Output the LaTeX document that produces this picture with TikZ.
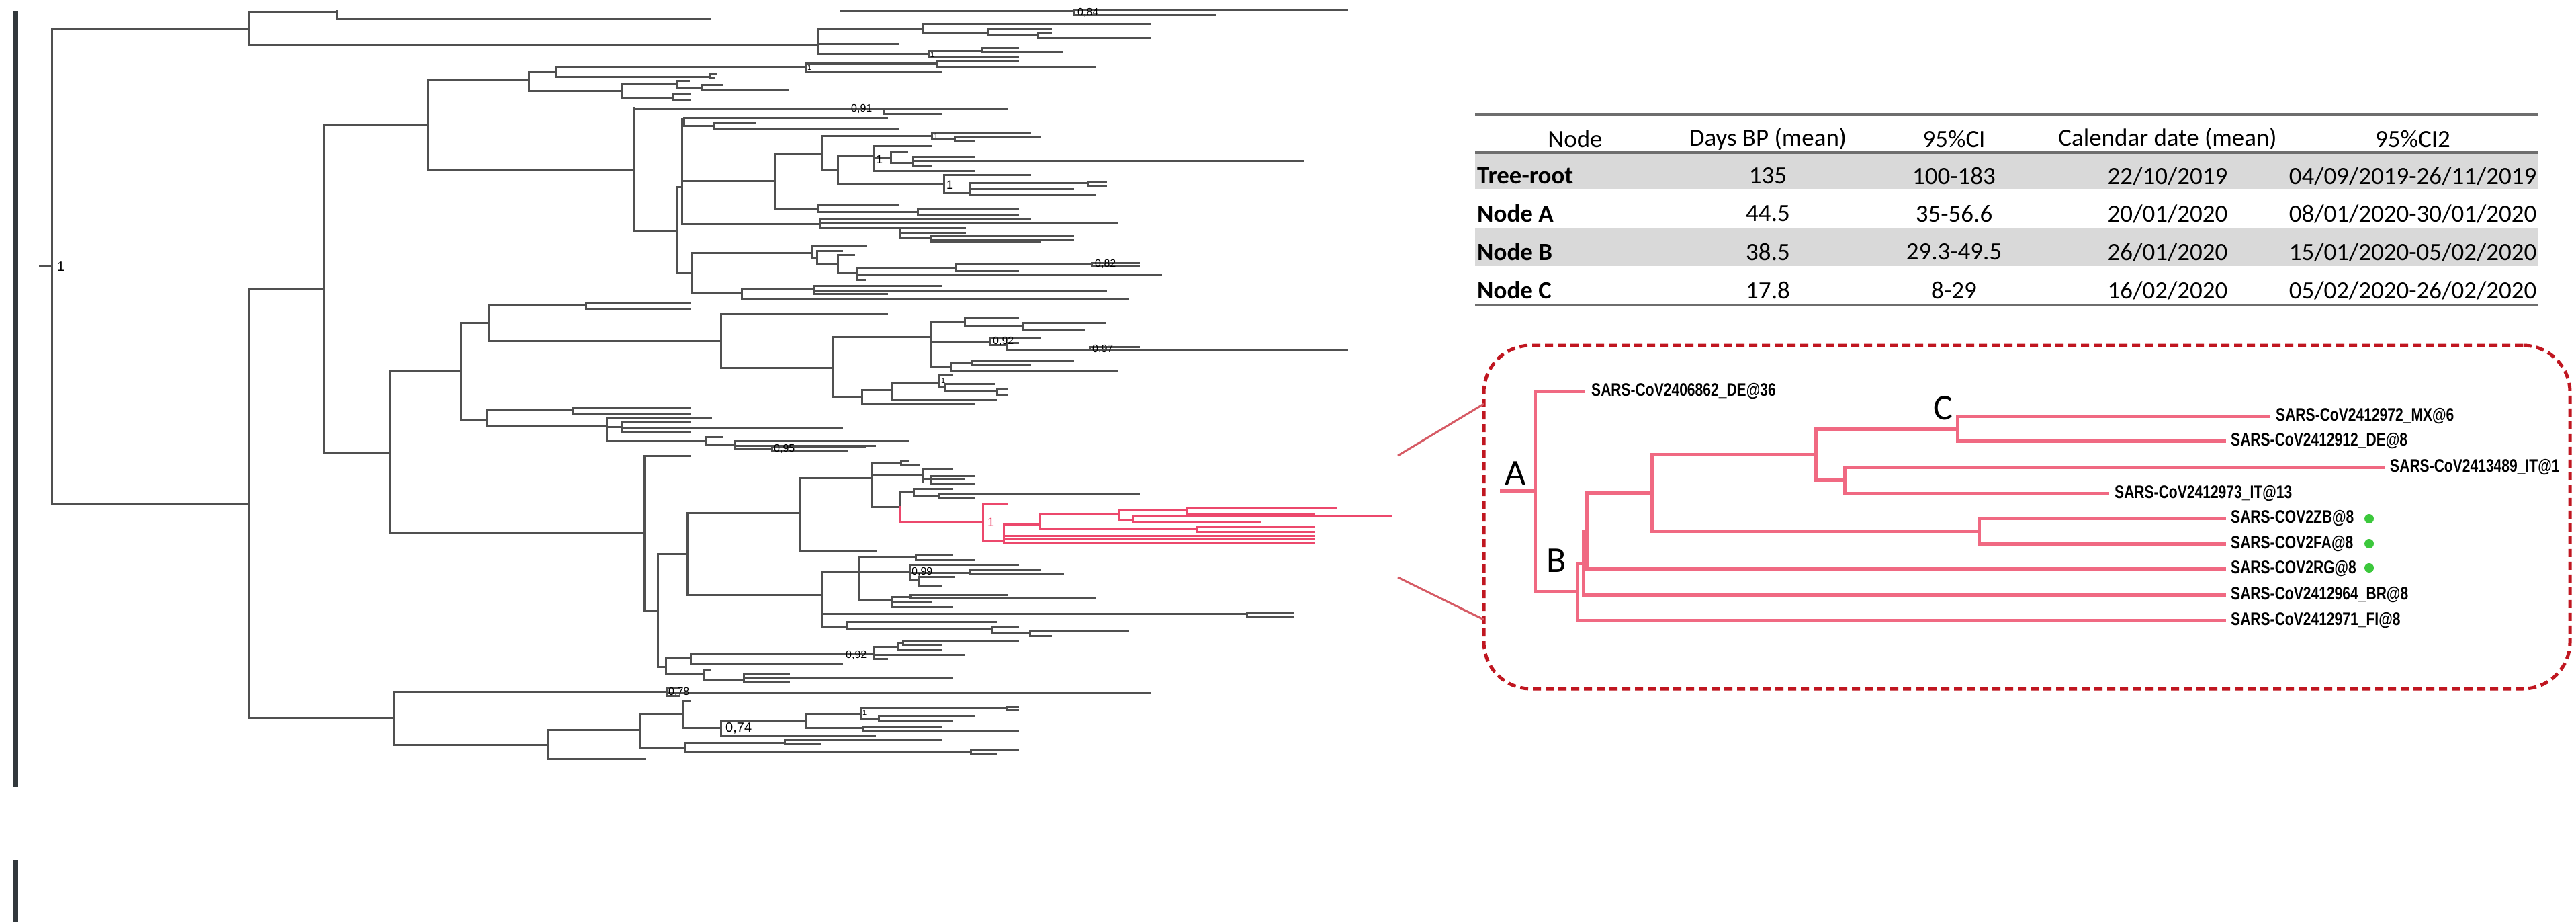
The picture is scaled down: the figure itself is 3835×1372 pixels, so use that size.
\documentclass[tikz,border=0pt]{standalone}
\usepackage{fontspec}
\setmainfont{Carlito}
\newfontfamily\arialf{Liberation Sans}
\definecolor{trc}{RGB}{80,80,80}
\definecolor{rdc}{RGB}{236,72,108}
\definecolor{ipk}{RGB}{240,105,130}
\definecolor{boxc}{RGB}{192,22,32}
\definecolor{lnk}{RGB}{214,90,100}
\definecolor{shadec}{RGB}{217,217,217}
\definecolor{rulec}{RGB}{110,110,110}
\definecolor{barc}{RGB}{50,56,60}
\definecolor{dotc}{RGB}{60,200,60}
\begin{document}
\begin{tikzpicture}[x=1pt,y=-1pt,
  br/.style={draw=trc,line width=3pt,line cap=rect},
  rbr/.style={draw=rdc,line width=3pt,line cap=rect},
  ib/.style={draw=ipk,line width=5pt,line cap=rect},
  suplab/.style={font=\arialf\fontsize{16}{16}\selectfont,inner sep=1pt,anchor=west,text=black},
  cell/.style={font=\fontsize{37}{40}\selectfont,inner sep=0pt},
  rowlab/.style={font=\bfseries\fontsize{37}{40}\selectfont,inner sep=0pt,anchor=west},
  leaf/.style={anchor=west,inner sep=0pt,font=\arialf\bfseries\fontsize{27}{30}\selectfont},
  biglab/.style={font=\fontsize{54}{60}\selectfont,inner sep=0pt},
  gdot/.style={circle,fill=dotc,minimum size=14pt,inner sep=0pt}]
\useasboundingbox (0,0) rectangle (3835,1372);
\fill[white] (0,0) rectangle (3835,1372);
% left bar
\fill[barc] (19,17) rectangle (27,1171);
\fill[barc] (19,1280) rectangle (27,1372);
% ---------------- main tree: verticals
\foreach \x/\a/\b in {77/43/749, 370/18/67, 501/17/29, 1598/16/23, 1217/43/81, 1373/36/49, 1471/43/53, 1545/50/57, 1382/76/86, 1462/72/78,
 370/430/1068, 482/187/673, 636/120/253, 787/107/136, 827/100/115, 1199/95/107, 1394/92/100, 1057/111/116, 925/126/146, 1007/121/132, 1045/127/135, 1002/141/150,
 944/161/343, 1316/163/170, 1008/279/406, 1015/178/333, 1018/176/188, 1063/184/193, 1153/229/310, 1223/203/254, 1387/198/208, 1421/205/211, 1247/232/275, 1300/218/255, 1326/227/243, 1358/234/248, 1405/261/287, 1444/273/290, 1619/272/277, 1218/305/315, 1366/311/319, 1221/325/339, 1339/339/353, 1385/350/360,
 1030/376/436, 1208/366/383, 1216/373/393, 1247/379/406, 1275/398/416, 1423/393/403, 1625/391/395, 1104/430/445, 1212/425/437,
 580/552/792, 686/480/624, 728/454/507, 872/451/459, 1073/467/547, 1240/501/590, 1385/478/546, 1436/473/485, 1523/480/491, 1474/503/513, 1498/510/520, 1622/516/521, 1416/540/552, 1446/536/543, 1283/580/600, 1327/570/594, 1398/557/575, 1406/571/581, 1484/578/587,
 725/609/633, 852/607/615, 903/621/656, 925/628/642, 1050/650/661, 1094/656/668, 1149/665/671,
 959/678/909, 979/824/992, 1023/763/885, 1191/711/819, 1297/688/754, 1341/685/692, 1373/698/717, 1385/708/720, 1340/732/754, 1360/727/737, 1398/734/741,
 1223/850/932, 1279/828/893, 1363/825/833, 1354/840/863, 1444/847/853, 1367/858/872, 1328/888/903, 1355/885/889, 1856/911/917, 1260/925/936, 1476/932/941, 1533/938/946,
 991/978/1002, 1028/973/988, 1300/963/980, 1336/956/967, 1344/954/959, 1048/996/1012, 1107/1003/1015,
 586/1029/1108, 992/1024/1035, 815/1086/1129, 953/1062/1113, 1016/1043/1083, 1073/1072/1094, 1200/1062/1083, 1281/1053/1070, 1499/1051/1056, 1308/1065/1073, 1285/1081/1087, 1019/1105/1118, 1168/1100/1107, 1445/1116/1122}
 \draw[br] (\x,\a) -- (\x,\b);
% ---------------- main tree: horizontals
\foreach \a/\y/\b in {59/396/77, 77/43/370, 77/749/370,
 370/18/501, 1251/17/1598, 501/29/1057, 1598/16/2005, 1598/23/1809,
 370/67/1217, 1217/43/1373, 1373/36/1711, 1373/49/1471, 1471/43/1564, 1471/53/1545, 1545/50/1564, 1545/57/1711, 1217/66/1337, 1217/81/1382, 1382/76/1462, 1462/72/1515, 1462/78/1581, 1382/86/1515,
 370/430/482, 482/187/636, 636/120/787, 787/107/827, 827/100/1199, 1199/95/1394, 1394/92/1515, 1394/100/1630, 1199/107/1400, 827/115/1057, 1057/111/1065, 1057/116/1062,
 787/136/925, 925/126/1007, 1007/121/1025, 1007/132/1045, 1045/127/1075, 1045/135/1173, 925/146/1002, 1002/141/1026, 1002/150/1026,
 636/253/944, 944/163/1316, 1316/163/1499, 1316/170/1401,
 944/343/1008, 1008/279/1015, 1015/178/1018, 1018/176/1320, 1018/188/1063, 1063/184/1123, 1063/193/1337,
 1015/270/1153, 1153/229/1223, 1223/203/1387, 1387/198/1533, 1387/208/1421, 1421/205/1548, 1421/211/1450,
 1223/254/1247, 1247/232/1300, 1300/218/1385, 1300/235/1326, 1326/227/1350, 1326/243/1358, 1358/234/1450, 1358/240/1940, 1358/248/1385, 1300/255/1450,
 1247/275/1405, 1405/261/1533, 1405/287/1444, 1444/273/1619, 1619/272/1646, 1619/277/1646, 1444/282/1597, 1444/290/1630,
 1153/310/1218, 1218/305/1337, 1218/315/1366, 1366/311/1515, 1366/319/1515,
 1015/333/1221, 1221/325/1533, 1221/332/1663, 1221/339/1339, 1339/339/1436, 1339/346/1436, 1339/353/1385, 1385/350/1597, 1385/356/1597, 1385/360/1548,
 1008/406/1030, 1030/376/1208, 1208/366/1288, 1208/383/1216, 1216/373/1253, 1216/393/1247, 1247/379/1271, 1247/406/1275, 1275/398/1423, 1423/393/1625, 1625/391/1695, 1625/395/1695, 1423/403/1515, 1275/409/1728, 1275/416/1287,
 1030/436/1104, 1104/430/1212, 1212/425/1401, 1212/432/1646, 1212/437/1320, 1104/445/1679,
 482/673/580, 580/552/686, 686/480/728, 728/454/872, 872/451/1026, 872/459/1026, 728/507/1073, 1073/467/1320, 1073/547/1240,
 1240/501/1385, 1385/478/1436, 1436/473/1515, 1436/485/1523, 1523/480/1644, 1523/491/1614,
 1385/508/1474, 1474/503/1548, 1474/513/1498, 1498/510/1515, 1498/520/1622, 1622/516/1695, 1622/521/2005,
 1385/546/1416, 1416/540/1446, 1446/536/1597, 1446/543/1533, 1416/552/1663,
 1240/590/1283, 1283/580/1327, 1327/570/1398, 1398/557/1417, 1398/575/1406, 1406/571/1480, 1406/581/1484, 1484/578/1499, 1484/587/1499, 1327/594/1483, 1283/600/1450,
 686/624/725, 725/609/852, 852/607/1026, 852/615/1026, 725/633/903, 903/621/1058, 903/635/925, 925/628/1026, 925/636/1253, 925/642/1026, 903/656/1050,
 1050/650/1075, 1050/661/1094, 1094/656/1351, 1094/663/1302, 1094/668/1149, 1149/665/1287, 1149/671/1260,
 580/792/959, 959/678/1026, 959/909/979, 979/824/1023, 1023/763/1191, 1191/711/1297, 1297/688/1341, 1341/685/1352, 1341/692/1368, 1297/707/1373, 1373/698/1417, 1373/713/1385, 1385/708/1450, 1385/713/1434, 1385/720/1450,
 1297/754/1340, 1340/732/1360, 1360/727/1417, 1360/737/1398, 1398/734/1695, 1398/741/1450,
 1191/819/1303,
 1023/885/1223, 1223/850/1279, 1279/828/1363, 1363/825/1417, 1363/833/1450, 1279/851/1354, 1354/840/1515, 1354/852/1444, 1444/847/1548, 1444/853/1582, 1354/863/1367, 1367/858/1420, 1367/872/1400,
 1279/893/1328, 1328/888/1355, 1355/885/1499, 1355/889/1630, 1328/896/1385, 1328/903/1417,
 1223/913/1856, 1856/911/1924, 1856/917/1924, 1223/932/1260, 1260/925/1483, 1260/936/1476, 1476/932/1515, 1476/941/1533, 1533/938/1679, 1533/946/1564,
 979/992/991, 991/978/1028, 1028/973/1300, 1300/963/1336, 1336/956/1344, 1344/954/1515, 1344/959/1400, 1336/967/1400, 1300/974/1434, 1300/980/1320, 1028/988/1253,
 991/1002/1048, 1048/996/1057, 1048/1012/1107, 1107/1003/1174, 1107/1009/1417, 1107/1015/1174,
 370/1068/586, 586/1029/992, 992/1024/1010, 992/1030/1711, 992/1035/1010,
 586/1108/815, 815/1129/960, 815/1086/953, 953/1062/1016, 1016/1043/1027, 1016/1083/1073, 1073/1072/1200, 1200/1062/1281, 1281/1053/1499, 1499/1051/1515, 1499/1056/1515, 1281/1070/1308, 1308/1065/1450, 1308/1073/1417, 1200/1083/1285, 1285/1081/1400, 1285/1087/1515, 1073/1094/1302,
 953/1113/1019, 1019/1105/1168, 1168/1100/1400, 1168/1107/1221, 1019/1118/1445, 1445/1116/1515, 1445/1122/1483}
 \draw[br] (\a,\y) -- (\b,\y);
% ---------------- red clade
\foreach \x/\a/\b in {1340/754/777, 1463/749/804, 1494/780/807, 1548/765/787, 1665/758/773, 1766/755/764, 1686/768/777, 1781/783/791}
 \draw[rbr] (\x,\a) -- (\x,\b);
\foreach \a/\y/\b in {1340/777/1463, 1463/749/1499, 1463/804/1494, 1494/780/1548, 1548/765/1665, 1665/758/1766, 1766/755/1988, 1766/764/1956, 1665/773/1686, 1686/768/2071, 1686/777/1875, 1548/787/1781, 1781/783/1956, 1781/791/1956, 1494/797/1956, 1494/802/1956, 1494/807/1956}
 \draw[rbr] (\a,\y) -- (\b,\y);
% ---------------- support values
\node[suplab,font=\arialf\fontsize{20}{20}\selectfont] (s0) at (84,397) {1};
\node[suplab] (s1) at (1603,19) {0,84};
\node[suplab] (s2) at (1266,162) {0,91};
\node[suplab,font=\arialf\fontsize{11}{11}\selectfont] (s3) at (1384,82) {1};
\node[suplab,font=\arialf\fontsize{11}{11}\selectfont] (s4) at (1201,101) {1};
\node[suplab,font=\arialf\fontsize{11}{11}\selectfont] (s5) at (1389,203) {1};
\node[suplab,font=\arialf\fontsize{18}{18}\selectfont] (s6) at (1303,237) {1};
\node[suplab,font=\arialf\fontsize{18}{18}\selectfont] (s7) at (1408,275) {1};
\node[suplab] (s8) at (1629,393) {0,82};
\node[suplab] (s9) at (1477,508) {0,92};
\node[suplab] (s10) at (1625,520) {0,97};
\node[suplab,font=\arialf\fontsize{11}{11}\selectfont] (s11) at (1400,567) {1};
\node[suplab] (s12) at (1151,668) {0,95};
\node[suplab,text=rdc,font=\arialf\fontsize{18}{18}\selectfont] (s13) at (1469,777) {1};
\node[suplab] (s14) at (1356,851) {0,99};
\node[suplab] (s15) at (1258,975) {0,92};
\node[suplab] (s16) at (994,1030) {0,78};
\node[suplab,font=\arialf\fontsize{20}{20}\selectfont] (s17) at (1079,1084) {0,74};
\node[suplab,font=\arialf\fontsize{11}{11}\selectfont] (s18) at (1283,1061) {1};
% ---------------- table
\fill[shadec] (2196,229) rectangle (3779,281);
\fill[shadec] (2196,340) rectangle (3779,396);
\draw[rulec,line width=4pt] (2196,170) -- (3779,170);
\draw[rulec,line width=4pt] (2196,227) -- (3779,227);
\draw[rulec,line width=4pt] (2196,454) -- (3779,454);
\node[cell] (h1) at (2345,207) {Node};
\node[cell] (h2) at (2632,207) {Days BP (mean)};
\node[cell] (h3) at (2909,207) {95\%CI};
\node[cell] (h4) at (3227,207) {Calendar date (mean)};
\node[cell] (h5) at (3592,207) {95\%CI2};
\node[rowlab] (r1) at (2199,262) {Tree-root};
\node[rowlab] (r2) at (2199,318) {Node A};
\node[rowlab] (r3) at (2199,375) {Node B};
\node[rowlab] (r4) at (2199,432) {Node C};
\node[cell] (a1) at (2632,262) {135};
\node[cell] (a2) at (2632,318) {44.5};
\node[cell] (a3) at (2632,375) {38.5};
\node[cell] (a4) at (2632,432) {17.8};
\node[cell] (b1) at (2909,262) {100-183};
\node[cell] (b2) at (2909,318) {35-56.6};
\node[cell] (b3) at (2909,375) {29.3-49.5};
\node[cell] (b4) at (2909,432) {8-29};
\node[cell] (c1) at (3227,262) {22/10/2019};
\node[cell] (c2) at (3227,318) {20/01/2020};
\node[cell] (c3) at (3227,375) {26/01/2020};
\node[cell] (c4) at (3227,432) {16/02/2020};
\node[cell] (d1) at (3592,262) {04/09/2019-26/11/2019};
\node[cell] (d2) at (3592,318) {08/01/2020-30/01/2020};
\node[cell] (d3) at (3592,375) {15/01/2020-05/02/2020};
\node[cell] (d4) at (3592,432) {05/02/2020-26/02/2020};
% ---------------- inset box and connectors
\node[draw=boxc,line width=5pt,dash pattern=on 12pt off 7pt,rounded corners=70pt,
      minimum width=1617pt,minimum height=511pt,inner sep=0pt] (inset) at (3017.5,769.5) {};
\coordinate (z1) at (2081,678);
\coordinate (z2) at (2081,859);
\coordinate (e1) at (2209,601);
\coordinate (e2) at (2209,922);
\draw[lnk,line width=3pt] (z1) -- (e1);
\draw[lnk,line width=3pt] (z2) -- (e2);
% ---------------- inset tree
\foreach \x/\a/\b in {2285/582/880, 2348/838/923, 2357/791/885, 2362/733/846, 2459/676/790, 2703/638/714, 2914/619/656, 2746/695/734, 2946/771/809}
 \draw[ib] (\x,\a) -- (\x,\b);
\foreach \a/\y/\b in {2235/730/2285, 2285/582/2357, 2285/880/2348, 2348/923/3311, 2348/838/2357, 2357/885/3311, 2357/791/2362, 2362/846/3311, 2362/733/2459,
 2459/676/2703, 2703/638/2914, 2914/619/3377, 2914/656/3311, 2703/714/2746, 2746/695/3548, 2746/734/3137, 2459/790/2946, 2946/771/3311, 2946/809/3311}
 \draw[ib] (\a,\y) -- (\b,\y);
\node[leaf] (l1) at (2369,582) {\scalebox{0.78}[1]{SARS-CoV2406862\_DE@36}};
\node[leaf] (l2) at (3388,619) {\scalebox{0.78}[1]{SARS-CoV2412972\_MX@6}};
\node[leaf] (l3) at (3321,656) {\scalebox{0.78}[1]{SARS-CoV2412912\_DE@8}};
\node[leaf] (l4) at (3558,695) {\scalebox{0.78}[1]{SARS-CoV2413489\_IT@1}};
\node[leaf] (l5) at (3148,734) {\scalebox{0.78}[1]{SARS-CoV2412973\_IT@13}};
\node[leaf] (l6) at (3321,771) {\scalebox{0.78}[1]{SARS-COV2ZB@8}};
\node[leaf] (l7) at (3321,809) {\scalebox{0.78}[1]{SARS-COV2FA@8}};
\node[leaf] (l8) at (3321,846) {\scalebox{0.78}[1]{SARS-COV2RG@8}};
\node[leaf] (l9) at (3321,885) {\scalebox{0.78}[1]{SARS-CoV2412964\_BR@8}};
\node[leaf] (l10) at (3321,923) {\scalebox{0.78}[1]{SARS-CoV2412971\_FI@8}};
\node[gdot] (g1) at (3527,772) {};
\node[gdot] (g2) at (3527,809) {};
\node[gdot] (g3) at (3527,845) {};
\node[biglab] (lA) at (2256,704) {A};
\node[biglab] (lB) at (2317,834) {B};
\node[biglab] (lC) at (2893,607) {C};
\end{tikzpicture}
\end{document}
